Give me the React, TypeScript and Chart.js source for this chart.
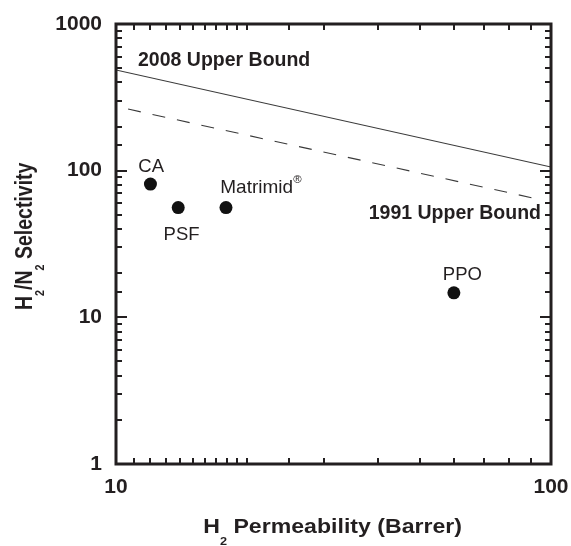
import React, { useEffect, useRef } from "react";
import { Chart, registerables } from "chart.js";
Chart.register(...registerables);

// ---- data ----
const materials = ["CA", "PSF", "Matrimid", "PPO"];
const permeability = [12, 13.9, 17.9, 59.8];
const selectivity = [81, 56, 56, 14.7];

const bound2008X = [10, 100];
const bound2008Y = [486, 106];
const bound1991X = [10.66, 93.3];
const bound1991Y = [263, 64];

const xTickLabels = [10, 100];
const yTickLabels = [1, 10, 100, 1000];

const FONT = '"Liberation Sans", Arial, Helvetica, sans-serif';
const INK = "#231f20";

type Part = { t: string; s?: "sub" | "sup" };

function drawRich(
  ctx: CanvasRenderingContext2D,
  parts: Part[],
  x: number,
  y: number,
  size: number,
  weight: string,
  align: "left" | "center" | "right",
  sx = 1,
  subScale = 0.6,
  subDy = 0.4,
  supDy = -0.5
) {
  ctx.save();
  ctx.translate(x, y);
  ctx.scale(sx, 1);
  ctx.textBaseline = "alphabetic";
  ctx.textAlign = "left";
  ctx.fillStyle = INK;
  let w = 0;
  for (const p of parts) {
    ctx.font = `${weight} ${p.s ? size * subScale : size}px ${FONT}`;
    w += ctx.measureText(p.t).width;
  }
  let cx = align === "left" ? 0 : align === "center" ? -w / 2 : -w;
  for (const p of parts) {
    const fs = p.s ? size * subScale : size;
    ctx.font = `${weight} ${fs}px ${FONT}`;
    const dy = p.s === "sub" ? size * subDy : p.s === "sup" ? size * supDy : 0;
    ctx.fillText(p.t, cx, dy);
    cx += ctx.measureText(p.t).width;
  }
  ctx.restore();
}

const isMajor = (v: number) => {
  const l = Math.log10(v);
  return Math.abs(l - Math.round(l)) < 1e-6;
};

const framePlugin = {
  id: "frameTicks",
  afterDraw(chart: any) {
    const { ctx, chartArea: a } = chart;
    const x = chart.scales.x;
    const y = chart.scales.y;
    ctx.save();
    ctx.strokeStyle = INK;
    ctx.lineWidth = 2;
    const seg = (x1: number, y1: number, x2: number, y2: number) => {
      ctx.beginPath();
      ctx.moveTo(x1, y1);
      ctx.lineTo(x2, y2);
      ctx.stroke();
    };
    for (const t of x.ticks) {
      const px = Math.round(x.getPixelForValue(t.value));
      const L = isMajor(t.value) ? 10 : 6;
      seg(px, a.bottom, px, a.bottom - L);
      seg(px, a.top, px, a.top + L);
    }
    for (const t of y.ticks) {
      const py = Math.round(y.getPixelForValue(t.value));
      const L = isMajor(t.value) ? 11 : 6;
      seg(a.left, py, a.left + L, py);
      seg(a.right, py, a.right - L, py);
    }
    ctx.lineWidth = 3;
    ctx.strokeRect(a.left, a.top, a.right - a.left, a.bottom - a.top);
    ctx.restore();
  },
};

const labelPlugin = {
  id: "labels",
  afterDraw(chart: any) {
    const { ctx, chartArea: a } = chart;
    const meta = chart.getDatasetMeta(0);
    const pts = meta.data.map((e: any) => ({ x: e.x, y: e.y }));
    // point labels
    drawRich(ctx, [{ t: materials[0] }], pts[0].x + 0.7, pts[0].y - 11.6, 18.5, "normal", "center");
    drawRich(ctx, [{ t: materials[1] }], pts[1].x + 3.4, pts[1].y + 32.3, 18.5, "normal", "center");
    drawRich(ctx, [{ t: materials[2] }, { t: "®", s: "sup" }], pts[2].x - 5.7, pts[2].y - 14.4, 19, "normal", "left", 1, 0.6, 0.4, -0.53);
    drawRich(ctx, [{ t: materials[3] }], pts[3].x + 8.5, pts[3].y - 12.7, 18.5, "normal", "center");

    // bound labels
    drawRich(ctx, [{ t: "2008 Upper Bound" }], a.left + 22, a.top + 42, 19.5, "bold", "left");
    drawRich(ctx, [{ t: "1991 Upper Bound" }], a.right - 10, a.top + 195.3, 19.5, "bold", "right");

    // x title
    drawRich(
      ctx,
      [{ t: "H" }, { t: "2", s: "sub" }, { t: " Permeability (Barrer)" }],
      203.3,
      533.3,
      21,
      "bold",
      "left",
      1.1,
      0.55,
      0.55
    );
    // y title
    ctx.save();
    ctx.translate(31.7, 310);
    ctx.rotate(-Math.PI / 2);
    ctx.scale(1, 1.25);
    drawRich(
      ctx,
      [{ t: "H" }, { t: "2", s: "sub" }, { t: "/N" }, { t: "2", s: "sub" }, { t: " Selectivity" }],
      0,
      0,
      19.5,
      "bold",
      "left",
      1,
      0.55,
      0.5
    );
    ctx.restore();
  },
};

export default function App() {
  const ref = useRef<HTMLCanvasElement>(null);
  useEffect(() => {
    document.body.style.margin = "0";
    const canvas = ref.current!;
    const tickFont = { family: FONT, size: 21, weight: "bold" as const };
    const chart = new Chart(canvas, {
      type: "scatter",
      data: {
        datasets: [
          {
            label: "Materials",
            data: materials.map((_, i) => ({ x: permeability[i], y: selectivity[i] })),
            pointRadius: 6.5,
            pointHoverRadius: 6.5,
            backgroundColor: "#111111",
            borderWidth: 0,
          },
          {
            label: "2008 Upper Bound",
            data: bound2008X.map((x, i) => ({ x, y: bound2008Y[i] })),
            showLine: true,
            pointRadius: 0,
            borderColor: "#3a3a3a",
            borderWidth: 1.1,
          },
          {
            label: "1991 Upper Bound",
            data: bound1991X.map((x, i) => ({ x, y: bound1991Y[i] })),
            showLine: true,
            pointRadius: 0,
            borderColor: "#3a3a3a",
            borderWidth: 1.1,
            borderDash: [13, 12],
          },
        ],
      } as any,
      options: {
        responsive: false,
        animation: false,
        events: [],
        layout: { padding: { top: 24, right: 20, bottom: 0, left: 0 } },
        plugins: { legend: { display: false }, tooltip: { enabled: false } },
        scales: {
          x: {
            type: "logarithmic",
            min: 10,
            max: 100,
            position: "bottom",
            grid: { display: false, drawTicks: false },
            border: { display: false },
            ticks: {
              autoSkip: false,
              maxRotation: 0,
              minRotation: 0,
              padding: 11,
              color: INK,
              font: tickFont,
              callback: (v: any) =>
                xTickLabels.some((t) => Math.abs(t - Number(v)) < 1e-6) ? String(Math.round(Number(v))) : "",
            },
            afterFit: (s: any) => {
              s.height = 82;
              s.paddingLeft = 0;
              s.paddingRight = 0;
            },
          },
          y: {
            type: "logarithmic",
            min: 1,
            max: 1000,
            position: "left",
            grid: { display: false, drawTicks: false },
            border: { display: false },
            ticks: {
              autoSkip: false,
              padding: 14,
              color: INK,
              font: tickFont,
              callback: (v: any) =>
                yTickLabels.some((t) => Math.abs(t - Number(v)) < 1e-6) ? String(Math.round(Number(v))) : "",
            },
            afterFit: (s: any) => {
              s.width = 116;
              s.paddingTop = 0;
              s.paddingBottom = 0;
            },
          },
        },
      } as any,
      plugins: [framePlugin, labelPlugin],
    });
    return () => chart.destroy();
  }, []);
  return <canvas ref={ref} width={571} height={546} style={{ display: "block" }} />;
}
